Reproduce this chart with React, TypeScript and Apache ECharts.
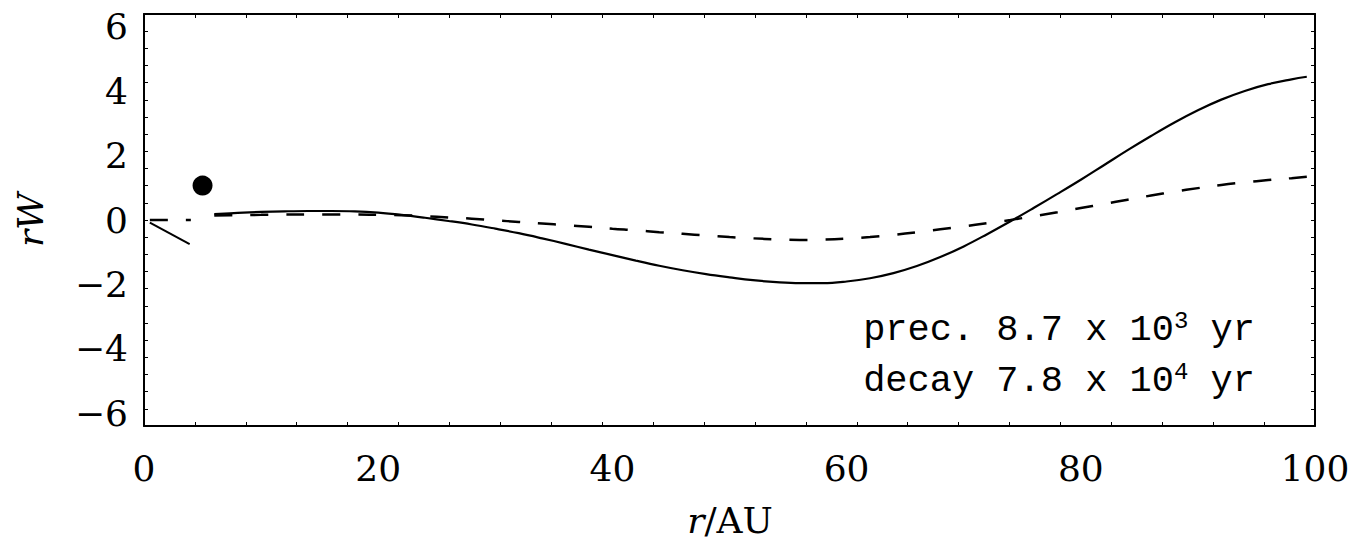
import React, { useEffect, useRef } from "react";
import * as echarts from "echarts";

// radius samples (AU) for the main curves
const rMain = [6, 8, 10, 12, 14, 16, 18, 20, 22, 24, 26, 28, 30, 32, 34, 36, 38, 40, 42, 44, 46, 48, 50, 52, 54, 56, 58, 60, 62, 64, 66, 68, 70, 72, 74, 76, 78, 80, 82, 84, 86, 88, 90, 92, 94, 96, 98, 99.3];
// solid curve (rW)
const solidMain = [0.18, 0.22, 0.25, 0.27, 0.28, 0.28, 0.27, 0.23, 0.16, 0.07, -0.03, -0.14, -0.27, -0.41, -0.57, -0.74, -0.92, -1.09, -1.26, -1.42, -1.56, -1.68, -1.78, -1.87, -1.93, -1.96, -1.96, -1.91, -1.81, -1.65, -1.43, -1.15, -0.82, -0.44, -0.04, 0.38, 0.81, 1.25, 1.71, 2.17, 2.61, 3.03, 3.41, 3.74, 4.01, 4.22, 4.37, 4.45];
// dashed curve
const dashedMain = [0.14, 0.15, 0.16, 0.17, 0.17, 0.17, 0.17, 0.16, 0.15, 0.12, 0.08, 0.04, -0.01, -0.06, -0.11, -0.16, -0.21, -0.27, -0.32, -0.38, -0.43, -0.48, -0.53, -0.57, -0.6, -0.62, -0.61, -0.58, -0.53, -0.46, -0.38, -0.29, -0.2, -0.1, 0.0, 0.12, 0.24, 0.37, 0.5, 0.63, 0.76, 0.88, 0.99, 1.09, 1.17, 1.24, 1.3, 1.34];

// short inner segments
const rInnerSolid = [0.5, 3.9];
const solidInner = [-0.08, -0.75];
const rInnerDashed = [0.5, 4.0];
const dashedInner = [0, 0];

// filled marker
const dotPoint = [5, 1.07];

// axis labels
const xLabels = [0, 20, 40, 60, 80, 100];
const yLabels = [-6, -4, -2, 0, 2, 4, 6];
const xMin = 0, xMax = 100;
const yMin = -6.4, yMax = 6.4;
const xTickCount = 23;
const yTickCount = 24;

const xTicks = Array.from({ length: xTickCount + 1 }, (_, k) => xMin + (k * (xMax - xMin)) / xTickCount);
const yTicks = Array.from({ length: yTickCount + 1 }, (_, k) => yMin + (k * (yMax - yMin)) / yTickCount);

const FONT = "DejaVu Serif";
const NOTE_FONT = "Liberation Mono";

const zip = (xs: number[], ys: number[]) => xs.map((x, i) => [x, ys[i]]);
const fmt = (v: number) => (v < 0 ? "\u2212" + Math.abs(v) : String(v));

export default function App() {
  const ref = useRef<HTMLDivElement>(null);
  useEffect(() => {
    if (!ref.current) return;
    const chart = echarts.init(ref.current, null, { renderer: "svg" });
    const lineAx = { show: true, onZero: false, lineStyle: { color: "#000", width: 2 } };
    const tickAx = (vals: number[]) => ({
      show: true,
      inside: true,
      length: 4,
      customValues: vals,
      lineStyle: { color: "#000", width: 1 },
    });
    const noteRich = { s: { fontSize: 24, lineHeight: 24, verticalAlign: "top", fontFamily: NOTE_FONT } };
    chart.setOption({
      animation: false,
      backgroundColor: "#fff",
      grid: { left: 144, right: 57, top: 14, bottom: 124, containLabel: false },
      xAxis: [
        {
          type: "value",
          position: "bottom",
          min: xMin,
          max: xMax,
          splitLine: { show: false },
          axisLine: lineAx,
          axisTick: tickAx(xTicks),
          axisLabel: {
            customValues: xLabels,
            formatter: (v: number) => fmt(v),
            color: "#000",
            fontFamily: FONT,
            fontSize: 36,
            margin: 24,
          },
        },
        {
          type: "value",
          position: "top",
          min: xMin,
          max: xMax,
          splitLine: { show: false },
          axisLine: lineAx,
          axisTick: tickAx(xTicks),
          axisLabel: { show: false },
        },
      ],
      yAxis: [
        {
          type: "value",
          position: "left",
          min: yMin,
          max: yMax,
          splitLine: { show: false },
          axisLine: lineAx,
          axisTick: tickAx(yTicks),
          axisLabel: {
            customValues: yLabels,
            formatter: (v: number) => fmt(v),
            color: "#000",
            fontFamily: FONT,
            fontSize: 36,
            margin: 16,
          },
        },
        {
          type: "value",
          position: "right",
          min: yMin,
          max: yMax,
          splitLine: { show: false },
          axisLine: lineAx,
          axisTick: tickAx(yTicks),
          axisLabel: { show: false },
        },
      ],
      series: [
        {
          type: "line",
          data: zip(rMain, solidMain),
          smooth: 0.4,
          showSymbol: false,
          lineStyle: { color: "#000", width: 2.2 },
        },
        {
          type: "line",
          data: zip(rMain, dashedMain),
          smooth: 0.4,
          showSymbol: false,
          lineStyle: { color: "#000", width: 2.5, type: [18, 18] },
        },
        {
          type: "line",
          data: zip(rInnerSolid, solidInner),
          showSymbol: false,
          lineStyle: { color: "#000", width: 2 },
        },
        {
          type: "line",
          data: zip(rInnerDashed, dashedInner),
          showSymbol: false,
          lineStyle: { color: "#000", width: 2.5, type: [18, 18] },
        },
        {
          type: "scatter",
          data: [dotPoint],
          symbol: "circle",
          symbolSize: 20,
          itemStyle: { color: "#000", opacity: 1 },
        },
      ],
      graphic: [
        {
          type: "text",
          x: 730,
          y: 520,
          style: {
            text: "{i|r}/AU",
            fontFamily: FONT,
            fontSize: 36,
            fill: "#000",
            align: "center",
            verticalAlign: "middle",
            rich: { i: { fontStyle: "italic", fontFamily: FONT, fontSize: 36 } },
          },
        },
        {
          type: "text",
          x: 30,
          y: 220,
          rotation: Math.PI / 2,
          style: {
            text: "rW",
            fontFamily: FONT,
            fontStyle: "italic",
            fontSize: 36,
            fill: "#000",
            align: "center",
            verticalAlign: "middle",
          },
        },
        {
          type: "text",
          x: 1255,
          y: 330,
          style: {
            text: "prec. 8.7 x 10{s|3} yr",
            fontFamily: NOTE_FONT,
            fontSize: 37,
            lineHeight: 42,
            fill: "#000",
            align: "right",
            verticalAlign: "middle",
            rich: noteRich,
          },
        },
        {
          type: "text",
          x: 1255,
          y: 381,
          style: {
            text: "decay 7.8 x 10{s|4} yr",
            fontFamily: NOTE_FONT,
            fontSize: 37,
            lineHeight: 42,
            fill: "#000",
            align: "right",
            verticalAlign: "middle",
            rich: noteRich,
          },
        },
      ],
    });
    return () => chart.dispose();
  }, []);
  return (
    <div
      ref={ref}
      style={{ position: "fixed", left: 0, top: 0, width: 1372, height: 550, background: "#fff" }}
    />
  );
}
